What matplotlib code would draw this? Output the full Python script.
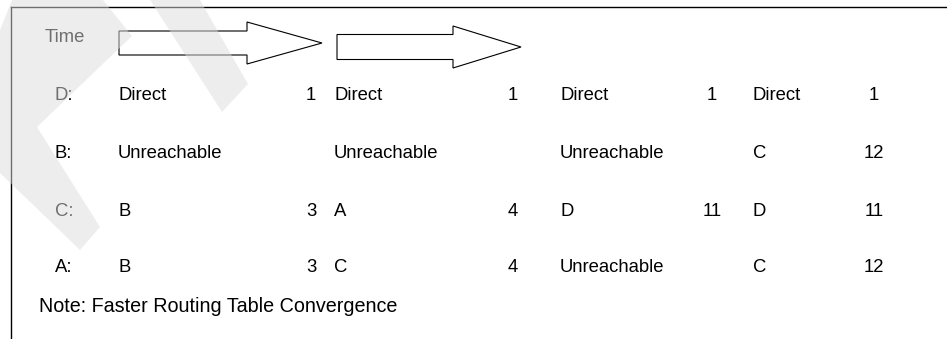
import numpy as np
import matplotlib.pyplot as plt
from matplotlib.patches import Polygon

# table contents (destination, then per time step: next hop + cost)
destinations = ['D:', 'B:', 'C:', 'A:']
routes = [
    ['Direct', 'Direct', 'Direct', 'Direct'],
    ['Unreachable', 'Unreachable', 'Unreachable', 'C'],
    ['B', 'A', 'D', 'D'],
    ['B', 'C', 'Unreachable', 'C'],
]
costs = [
    ['1', '1', '1', '1'],
    ['', '', '', '12'],
    ['3', '4', '11', '11'],
    ['3', '4', '', '12'],
]
time_label = 'Time'
note_text = 'Note: Faster Routing Table Convergence'

W, H = 947, 339
FS = 13.3
FONT = 'Liberation Sans'

# layout (pixels, y downwards)
row_y = [95, 153, 212, 268]
label_x = 55
route_x = [118, 334, 560, 753]
cost_x = [311, 513, 712, 874]


def arrow_points(x0, x1, xtip, yc, body_h, head_h):
    return [(x0, yc - body_h / 2), (x1, yc - body_h / 2), (x1, yc - head_h / 2),
            (xtip, yc), (x1, yc + head_h / 2), (x1, yc + body_h / 2),
            (x0, yc + body_h / 2)]


fig = plt.figure(figsize=(W / 100, H / 100), dpi=100)
ax = fig.add_axes([0, 0, 1, 1])
ax.set_xlim(0, W)
ax.set_ylim(H, 0)
ax.axis('off')

# frame (top and left edges only)
ax.plot([11, W], [7, 7], color='black', lw=1.0)
ax.plot([11, 11], [7, H], color='black', lw=1.0)

ax.text(45, 37, time_label, fontsize=FS, family=FONT, va='center', ha='left')

# time arrows
for pts in [arrow_points(119, 247, 322, 43, 24, 42),
            arrow_points(337, 453, 521, 47, 25, 42)]:
    ax.add_patch(Polygon(pts, closed=True, facecolor='white',
                         edgecolor='black', lw=0.8))

for i, dest in enumerate(destinations):
    y = row_y[i]
    ax.text(label_x, y, dest, fontsize=FS, family=FONT, va='center', ha='left')
    for j in range(len(route_x)):
        ax.text(route_x[j], y, routes[i][j], fontsize=FS, family=FONT,
                va='center', ha='left')
        if costs[i][j]:
            ax.text(cost_x[j], y, costs[i][j], fontsize=FS, family=FONT,
                    va='center', ha='center')

ax.text(39, 307, note_text, fontsize=14.2, family=FONT, va='center', ha='left')

# faint watermark drawn over everything (greys out the text beneath it)
wm = dict(facecolor='#dddddd', edgecolor='none', alpha=0.5, zorder=10)
ax.add_patch(Polygon([(0, 30), (12, 0), (103, 0), (132, 36), (37, 127),
                      (100, 227), (80, 250), (0, 173)], **wm))
ax.add_patch(Polygon([(150, 0), (200, 0), (248, 84), (222, 112)], **wm))

fig.savefig('out.png', dpi=100)
